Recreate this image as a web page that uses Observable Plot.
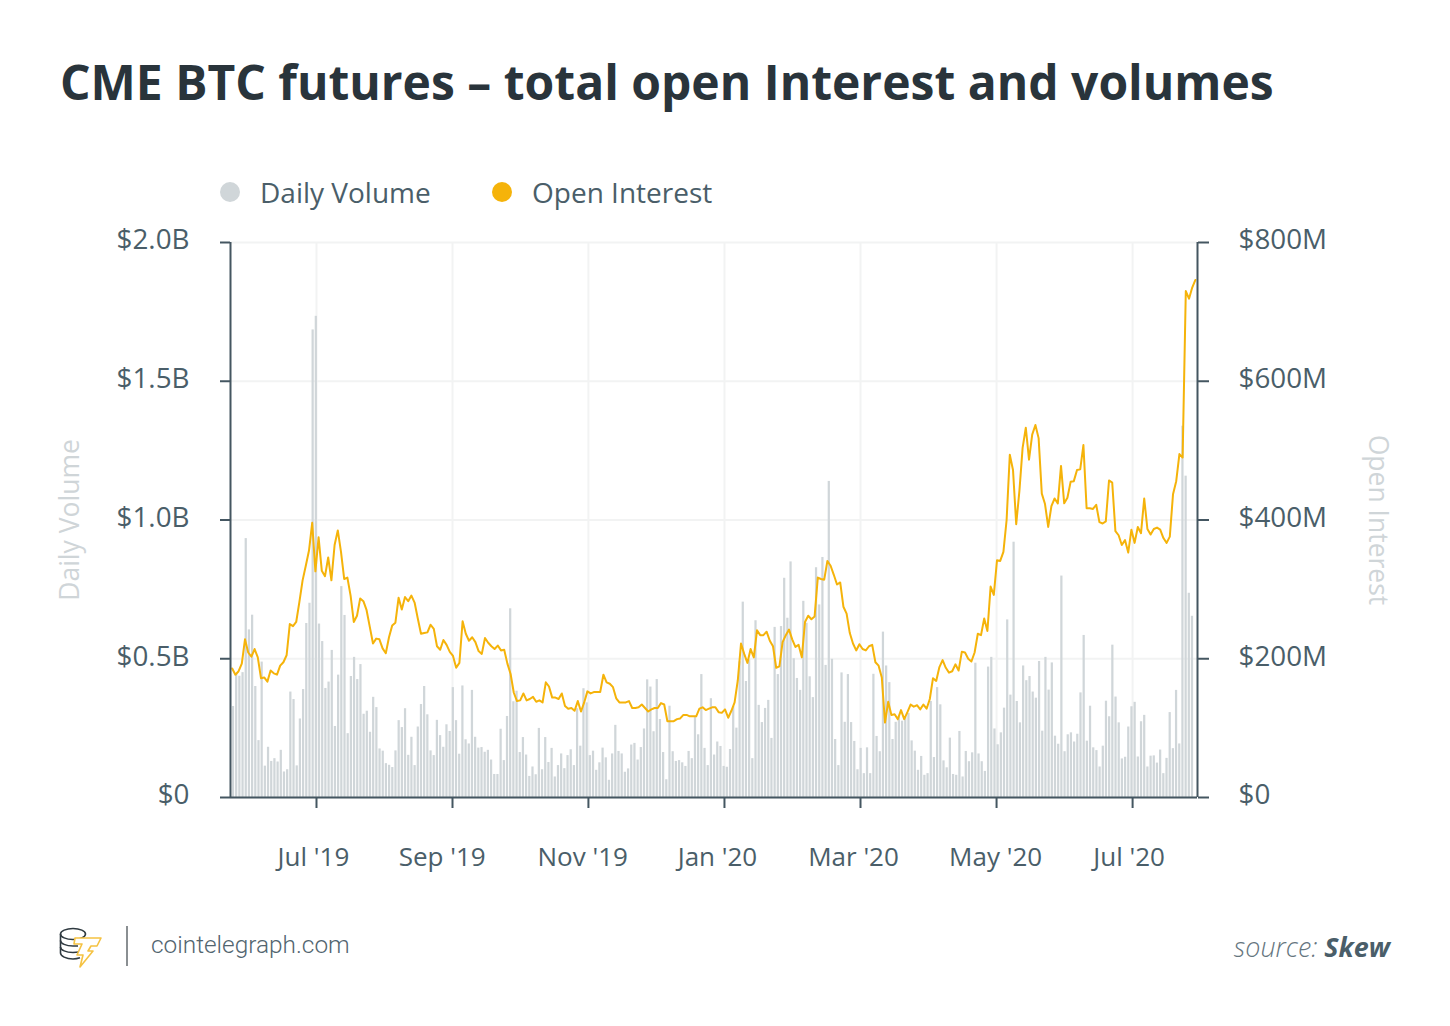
<!DOCTYPE html>
<html>
<head>
<meta charset="utf-8">
<script src="https://cdn.jsdelivr.net/npm/d3@7"></script>
<script src="https://cdn.jsdelivr.net/npm/@observablehq/plot@0.6"></script>
<style>
  html, body { margin: 0; padding: 0; background: #fff; }
  #page { position: relative; width: 1450px; height: 1026px; overflow: hidden; font-family: "Open Sans", sans-serif; }
  #title { position: absolute; left: 60px; top: 49px; margin: 0; font-size: 48px; font-weight: 700; color: #29343b; white-space: nowrap; line-height: 65px; }
  .lg { position: absolute; font-size: 28px; color: #4a5e69; top: 173px; line-height: 38px; white-space: nowrap; }
  .dot { position: absolute; width: 20px; height: 20px; border-radius: 50%; top: 182px; }
  #chart { position: absolute; left: 0; top: 220px; }
  #site { position: absolute; left: 151px; top: 929px; font-family: Roboto, sans-serif; font-weight: 300; font-size: 24.4px; color: #52656f; line-height: 32px; white-space: nowrap; }
  #sep { position: absolute; left: 126px; top: 926px; width: 2px; height: 40px; background: #8a8f92; }
  #source { position: absolute; right: 60px; top: 929px; font-size: 26.9px; font-style: italic; font-weight: 300; color: #65757e; line-height: 36px; white-space: nowrap; }
  #source b { font-weight: 700; color: #4a5e69; }
  #logo { position: absolute; left: 58px; top: 925px; }
</style>
</head>
<body>
<div id="page">
  <h1 id="title">CME BTC futures – total open Interest and volumes</h1>
  <div class="dot" style="left:220px;background:#d0d6d9"></div>
  <div class="lg" style="left:260px">Daily Volume</div>
  <div class="dot" style="left:492px;background:#f5b30a"></div>
  <div class="lg" style="left:532px">Open Interest</div>
  <div id="chart"></div>
  <svg id="logo" width="48" height="44" viewBox="0 0 48 44" fill="none">
    <g stroke="#2f3a41" stroke-width="1.6">
      <ellipse cx="15" cy="9" rx="12.5" ry="5.5"/>
      <path d="M2.500 9 V28 C2.500 31 8 34 15 34 C18 34 20 33.500 22 32.800"/>
      <path d="M2.500 15.500 C2.500 18.500 8 21 15 21 L20 21"/>
      <path d="M2.500 22 C2.500 25 8 27.500 15 27.500 L21 27"/>
    </g>
    <path d="M17 13 H43 L39 21 H33 L30 26 H35 L22 42 L25 30 H19 L24 19 H16 Z" fill="#fff" stroke="#f5c242" stroke-width="1.6" stroke-linejoin="round"/>
  </svg>
  <div id="sep"></div>
  <div id="site">cointelegraph.com</div>
  <div id="source">source: <b>Skew</b></div>
</div>
<script>
// Daily volume, $ billions
const dailyVolume = [
  .328,.446,.437,.45,.933,.604,.657,.40,.205,.488,
  .113,.181,.13,.14,.128,.17,.092,.10,.38,.353,
  .114,.283,.389,.627,.70,1.685,1.734,.625,.562,.393,
  .416,.53,.256,.441,.76,.656,.23,.436,.505,.425,
  .479,.30,.311,.235,.361,.324,.175,.167,.122,.116,
  .108,.168,.277,.252,.32,.152,.217,.115,.254,.335,
  .40,.298,.168,.151,.278,.223,.181,.262,.238,.396,
  .277,.156,.402,.208,.193,.386,.217,.178,.18,.163,
  .17,.135,.083,.083,.246,.133,.292,.68,.345,.383,
  .162,.216,.153,.076,.11,.082,.249,.10,.216,.126,
  .177,.074,.115,.157,.104,.151,.172,.115,.32,.185,
  .392,.341,.151,.167,.098,.125,.178,.143,.062,.157,
  .26,.166,.157,.091,.103,.189,.195,.135,.18,.247,
  .424,.398,.237,.425,.281,.162,.064,.329,.165,.13,
  .133,.125,.112,.166,.14,.29,.226,.443,.177,.115,
  .356,.153,.20,.184,.112,.109,.173,.328,.25,.489,
  .704,.418,.496,.14,.637,.332,.27,.321,.35,.213,
  .613,.443,.616,.79,.646,.849,.50,.429,.386,.707,
  .628,.435,.36,.828,.694,.865,.476,1.139,.498,.209,
  .115,.449,.271,.443,.27,.202,.10,.177,.086,.179,
  .086,.444,.22,.165,.596,.474,.414,.209,.271,.292,
  .275,.289,.303,.204,.167,.098,.148,.08,.086,.346,
  .144,.396,.334,.132,.107,.214,.083,.08,.238,.074,
  .166,.129,.161,.484,.157,.129,.094,.47,.505,.247,
  .19,.233,.322,.64,.369,.92,.346,.269,.474,.421,
  .436,.38,.358,.49,.239,.505,.387,.485,.221,.192,
  .798,.165,.226,.233,.20,.228,.377,.584,.203,.329,
  .179,.169,.11,.185,.347,.291,.549,.362,.269,.139,
  .145,.254,.327,.343,.146,.273,.296,.11,.149,.15,
  .124,.171,.086,.141,.306,.176,.386,.193,1.338,1.158,
  .736,.653
];
// Open interest, $ millions
const openInterest = [
  186,177,182,193,228,209,203,214,202,172,
  173,167,183,179,177,190,195,205,250,247,
  253,282,313,334,356,396,326,375,327,319,
  346,313,364,385,354,315,317,291,253,262,
  287,283,270,246,222,229,228,215,208,231,
  248,252,288,271,289,283,291,281,258,236,
  237,238,249,243,218,213,227,220,210,204,
  187,194,254,236,226,231,224,211,207,230,
  223,218,214,219,212,213,193,178,151,139,
  140,150,140,142,145,138,140,137,166,160,
  144,144,142,150,132,128,129,125,139,124,
  137,153,150,152,152,152,177,166,164,159,
  143,137,137,137,139,129,129,130,134,129,
  124,127,129,129,136,134,110,110,110,113,
  114,119,119,117,117,117,128,130,126,128,
  130,130,123,122,127,115,125,137,169,222,
  207,194,214,202,241,234,234,239,226,218,
  187,189,224,234,242,228,217,220,202,253,
  262,257,261,317,315,314,341,334,321,307,
  310,275,265,237,222,212,221,214,212,218,
  220,195,190,173,108,138,119,120,113,126,
  113,123,134,131,133,127,134,128,142,172,
  168,188,198,187,180,182,192,183,210,209,
  200,196,209,236,234,258,240,304,292,342,
  341,354,400,494,472,394,442,504,533,487,
  523,537,518,438,423,390,420,431,424,478,
  424,432,455,456,472,473,508,417,417,416,
  422,397,395,398,457,454,384,378,364,371,
  353,386,367,390,381,431,387,379,387,389,
  386,374,367,376,437,456,495,490,730,719,
  735,746
];
// Tick positions and labels along the bar index
const monthTicks = [26.05, 68.74, 111.4, 154.1, 196.8, 239.5, 282.2];
const monthLabels = ["Jul '19", "Sep '19", "Nov '19", "Jan '20", "Mar '20", "May '20", "Jul '20"];
const monthLabelPos = [25.1, 65.5, 109.6, 151.9, 194.6, 239.2, 281.1];
const volumeTicks = [0, 0.5, 1, 1.5, 2];
const volumeTickLabels = ["$0", "$0.5B", "$1.0B", "$1.5B", "$2.0B"];
const interestTickLabels = ["$0", "$200M", "$400M", "$600M", "$800M"];

const inkAxis = "#445661", inkText = "#4a5e69", inkFaint = "#cfd5d8", gridInk = "#f2f3f3";
const barInk = "#d0d6d9", lineInk = "#f5b30a";
const interestPerVolume = 400;     // $800M on the right sits level with $2.0B on the left
const barHalf = 0.35;
const lineStep = 3.2 / 3.186, lineStart = -1.3 / 3.186;

const chart = Plot.plot({
  width: 1450, height: 660,
  marginLeft: 230, marginRight: 253, marginTop: 22, marginBottom: 83,
  style: { fontFamily: "'Open Sans', sans-serif", background: "transparent" },
  x: { type: "linear", domain: [-0.94, 302.57], axis: null },
  y: { domain: [0, 2], axis: null },
  marks: [
    Plot.gridX(monthTicks, { stroke: gridInk, strokeWidth: 2, strokeOpacity: 1 }),
    Plot.gridY(volumeTicks, { stroke: gridInk, strokeWidth: 2, strokeOpacity: 1 }),
    Plot.rectY(dailyVolume, {
      x1: (d, i) => i - barHalf, x2: (d, i) => i + barHalf, y1: 0, y2: d => d, fill: barInk
    }),
    Plot.line(openInterest, {
      x: (d, i) => lineStart + i * lineStep, y: d => d / interestPerVolume,
      stroke: lineInk, strokeWidth: 2, curve: "linear"
    }),
    Plot.ruleX([-0.94, 302.57], { stroke: inkAxis, strokeWidth: 2 }),
    Plot.ruleY([0], { stroke: inkAxis, strokeWidth: 2 }),
    Plot.axisY(volumeTicks, {
      anchor: "left", label: null, tickSize: 10, stroke: inkAxis, strokeWidth: 2, tickFormat: () => ""
    }),
    Plot.axisY(volumeTicks, {
      anchor: "right", label: null, tickSize: 11, stroke: inkAxis, strokeWidth: 2, tickFormat: () => ""
    }),
    Plot.axisY(volumeTicks, {
      anchor: "left", label: null, tickSize: 0, tickPadding: 41, fontSize: 27.8, dy: -2,
      fill: inkText, tickFormat: (d, i) => volumeTickLabels[i]
    }),
    Plot.axisY(volumeTicks, {
      anchor: "right", label: null, tickSize: 0, tickPadding: 41, fontSize: 27.8, dy: -2,
      fill: inkText, tickFormat: (d, i) => interestTickLabels[i]
    }),
    Plot.axisX(monthTicks, {
      anchor: "bottom", label: null, tickSize: 11, stroke: inkAxis, strokeWidth: 2,
      tickFormat: () => ""
    }),
    Plot.text(monthLabels, {
      x: (d, i) => monthLabelPos[i], text: d => d, frameAnchor: "bottom",
      dy: 68, fontSize: 26, fill: inkText
    }),
    Plot.text(["Daily Volume"], {
      text: d => d, frameAnchor: "left", textAnchor: "middle", dx: -160, rotate: -90, fontSize: 26.5, fill: inkFaint
    }),
    Plot.text(["Open Interest"], {
      text: d => d, frameAnchor: "right", textAnchor: "middle", dx: 180, rotate: 90, fontSize: 26.5, fill: inkFaint
    })
  ]
});
document.getElementById("chart").appendChild(chart);
</script>
</body>
</html>
